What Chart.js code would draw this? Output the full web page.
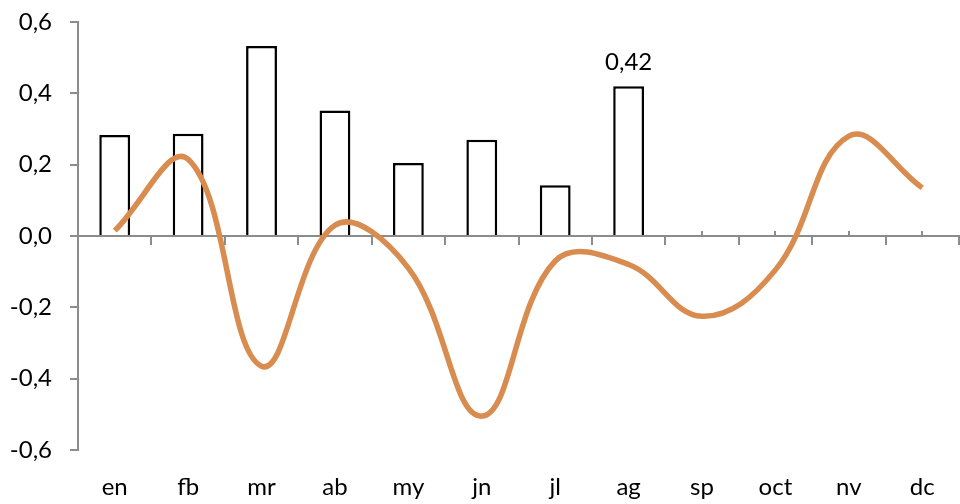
<!DOCTYPE html>
<html>
<head>
<meta charset="utf-8">
<script src="https://cdn.jsdelivr.net/npm/chart.js@4/dist/chart.umd.min.js"></script>
<style>
html,body{margin:0;padding:0;background:#fff}
#wrap{width:960px;height:504px}
</style>
</head>
<body>
<div id="wrap"><canvas id="c" width="960" height="504"></canvas></div>
<script>
// data
const months=["en","fb","mr","ab","my","jn","jl","ag","sp","oct","nv","dc"]
const barValues=[0.283,0.287,0.533,0.352,0.205,0.27,0.142,0.42,null,null,null,null]
const lineValues=[0.015,0.215,-0.365,0.03,-0.09,-0.505,-0.07,-0.08,-0.225,-0.095,0.28,0.135]
const yTicks=[-0.6,-0.4,-0.2,0,0.2,0.4,0.6]
const labelledMonths=["ag"]

const axisGray="#8c8c8c"

function fmt(v){
if(Math.abs(v)<1e-9) v=0
return v.toFixed(1).replace(".",",")
}

// value label above chosen bars
const valueLabels={
id:"valueLabels",
afterDatasetsDraw(chart){
const ctx=chart.ctx
const meta=chart.getDatasetMeta(1)
ctx.save()
ctx.font="24px Lato"
ctx.fillStyle="#000"
ctx.textAlign="center"
ctx.textBaseline="bottom"
labelledMonths.forEach(m=>{
let i=months.indexOf(m)
let bar=meta.data[i]
ctx.fillText(barValues[i].toFixed(2).replace(".",","),bar.x,bar.y-12)
})
ctx.restore()
}
}

Chart.defaults.font.family="Lato"
Chart.defaults.font.size=24
Chart.defaults.color="#000"

new Chart(document.getElementById("c"),{
data:{
labels:months,
datasets:[
{
type:"line",
data:lineValues,
borderColor:"#d88c50",
borderWidth:5.5,
pointRadius:0,
tension:0.4,
fill:false
},
{
type:"bar",
data:barValues,
backgroundColor:"#fff",
borderColor:"#000",
borderWidth:2.5,
barPercentage:0.42,
categoryPercentage:1
}
]
},
options:{
responsive:false,
animation:false,
plugins:{legend:{display:false},tooltip:{enabled:false}},
layout:{padding:{top:22,right:1,left:0,bottom:0}},
scales:{
x:{
type:"category",
position:"bottom",
offset:true,
grid:{display:false,drawTicks:false},
border:{display:false},
ticks:{padding:23,maxRotation:0,autoSkip:false},
afterFit(s){s.height=54;s.paddingLeft=0;s.paddingRight=0}
},
x2:{
type:"category",
position:{y:0},
offset:true,
grid:{offset:true,drawOnChartArea:false,drawTicks:true,tickLength:8,color:axisGray,lineWidth:2},
border:{display:true,color:axisGray,width:2},
ticks:{display:false}
},
x3:{
type:"category",
position:{y:0},
offset:true,
grid:{offset:false,drawOnChartArea:false,drawTicks:true,tickLength:-5,color:axisGray,lineWidth:2},
border:{display:false},
ticks:{display:false}
},
y:{
min:-0.6,
max:0.6,
afterBuildTicks(s){s.ticks=yTicks.map(v=>({value:v}))},
grid:{drawOnChartArea:false,drawTicks:true,tickLength:8,color:axisGray,lineWidth:2},
border:{display:true,color:axisGray,width:2},
ticks:{padding:18,callback:v=>fmt(v)},
afterFit(s){s.width=78;s.paddingTop=0;s.paddingBottom=0}
}
}
},
plugins:[valueLabels]
})
</script>
</body>
</html>
